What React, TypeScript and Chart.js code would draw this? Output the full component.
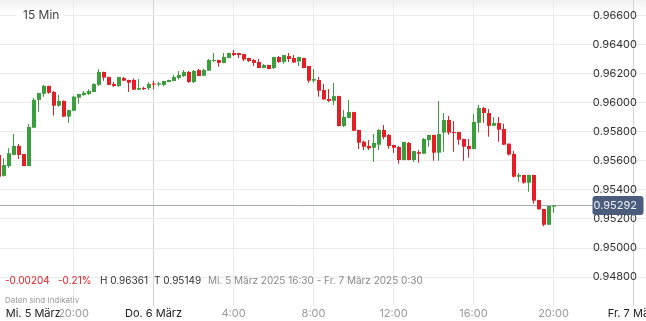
import React, { useEffect, useRef } from 'react';
import { Chart, registerables } from 'chart.js';

Chart.register(...registerables);

// 15-minute candles, slot -1 = 16:15 (5 March), slot 0 = 16:30 ... slot 110 = 20:00 (6 March)
const opens = [
  0.95640, 0.95496, 0.95563, 0.95640, 0.95701, 0.95646, 0.95563, 0.95827, 0.96018, 0.96060,
  0.96114, 0.96072, 0.95978, 0.96011, 0.95903, 0.95943, 0.96033, 0.96051, 0.96058, 0.96072,
  0.96121, 0.96210, 0.96175, 0.96127, 0.96114, 0.96168, 0.96155, 0.96155, 0.96088, 0.96100,
  0.96098, 0.96129, 0.96123, 0.96121, 0.96141, 0.96148, 0.96168, 0.96182, 0.96210, 0.96141,
  0.96223, 0.96184, 0.96219, 0.96285, 0.96292, 0.96272, 0.96306, 0.96340, 0.96340, 0.96333,
  0.96306, 0.96292, 0.96279, 0.96237, 0.96258, 0.96237, 0.96313, 0.96279, 0.96319, 0.96306,
  0.96282, 0.96306, 0.96251, 0.96150, 0.96155, 0.96086, 0.96024, 0.96011, 0.96044, 0.95838,
  0.95894, 0.95934, 0.95811, 0.95731, 0.95701, 0.95689, 0.95710, 0.95811, 0.95777, 0.95708,
  0.95694, 0.95605, 0.95722, 0.95605, 0.95659, 0.95648, 0.95742, 0.95777, 0.95655, 0.95793,
  0.95880, 0.95797, 0.95797, 0.95749, 0.95701, 0.95680, 0.95861, 0.95962, 0.95928, 0.95840,
  0.95859, 0.95818, 0.95717, 0.95646, 0.95490, 0.95502, 0.95449, 0.95502, 0.95330, 0.95268,
  0.95160, 0.95284,
];
const highs = [
  0.95640, 0.95617, 0.95685, 0.95784, 0.95715, 0.95646, 0.95852, 0.96033, 0.96067, 0.96121,
  0.96116, 0.96079, 0.96051, 0.96013, 0.95950, 0.96047, 0.96060, 0.96079, 0.96091, 0.96132,
  0.96230, 0.96212, 0.96177, 0.96141, 0.96177, 0.96175, 0.96157, 0.96166, 0.96161, 0.96109,
  0.96139, 0.96150, 0.96141, 0.96150, 0.96157, 0.96191, 0.96217, 0.96223, 0.96217, 0.96223,
  0.96232, 0.96232, 0.96299, 0.96340, 0.96294, 0.96340, 0.96342, 0.96361, 0.96342, 0.96335,
  0.96308, 0.96299, 0.96299, 0.96265, 0.96260, 0.96314, 0.96319, 0.96328, 0.96340, 0.96326,
  0.96314, 0.96308, 0.96253, 0.96230, 0.96175, 0.96127, 0.96093, 0.96134, 0.96046, 0.95948,
  0.96018, 0.95936, 0.95813, 0.95738, 0.95742, 0.95784, 0.95818, 0.95845, 0.95784, 0.95710,
  0.95701, 0.95731, 0.95729, 0.95668, 0.95673, 0.95756, 0.95779, 0.95779, 0.96011, 0.95928,
  0.95908, 0.95873, 0.95799, 0.95751, 0.95749, 0.95921, 0.95983, 0.95969, 0.95955, 0.95901,
  0.95901, 0.95854, 0.95719, 0.95666, 0.95516, 0.95504, 0.95504, 0.95504, 0.95332, 0.95270,
  0.95291, 0.95296,
];
const lows = [
  0.95490, 0.95492, 0.95552, 0.95637, 0.95612, 0.95563, 0.95563, 0.95825, 0.95936, 0.96040,
  0.96060, 0.95910, 0.95971, 0.95901, 0.95861, 0.95941, 0.95992, 0.96047, 0.96051, 0.96070,
  0.96114, 0.96150, 0.96119, 0.96107, 0.96107, 0.96148, 0.96072, 0.96086, 0.96087, 0.96086,
  0.96086, 0.96091, 0.96112, 0.96112, 0.96139, 0.96146, 0.96157, 0.96175, 0.96134, 0.96134,
  0.96180, 0.96182, 0.96217, 0.96279, 0.96246, 0.96270, 0.96304, 0.96319, 0.96306, 0.96285,
  0.96279, 0.96251, 0.96235, 0.96235, 0.96228, 0.96230, 0.96272, 0.96267, 0.96279, 0.96273,
  0.96251, 0.96235, 0.96136, 0.96136, 0.96040, 0.96019, 0.96004, 0.95983, 0.95836, 0.95832,
  0.95892, 0.95804, 0.95680, 0.95673, 0.95673, 0.95591, 0.95673, 0.95747, 0.95682, 0.95653,
  0.95579, 0.95603, 0.95603, 0.95591, 0.95586, 0.95646, 0.95696, 0.95600, 0.95600, 0.95662,
  0.95779, 0.95662, 0.95710, 0.95600, 0.95621, 0.95678, 0.95793, 0.95861, 0.95765, 0.95838,
  0.95731, 0.95708, 0.95635, 0.95486, 0.95455, 0.95442, 0.95387, 0.95304, 0.95264, 0.95149,
  0.95158, 0.95243,
];
const closes = [
  0.95490, 0.95570, 0.95651, 0.95701, 0.95640, 0.95563, 0.95832, 0.96018, 0.96065, 0.96114,
  0.96067, 0.95978, 0.96011, 0.95903, 0.95948, 0.96040, 0.96058, 0.96067, 0.96079, 0.96127,
  0.96210, 0.96171, 0.96121, 0.96114, 0.96175, 0.96150, 0.96136, 0.96088, 0.96100, 0.96093,
  0.96127, 0.96123, 0.96132, 0.96148, 0.96155, 0.96175, 0.96189, 0.96210, 0.96141, 0.96217,
  0.96182, 0.96223, 0.96292, 0.96292, 0.96272, 0.96313, 0.96340, 0.96326, 0.96326, 0.96296,
  0.96285, 0.96272, 0.96237, 0.96258, 0.96230, 0.96313, 0.96279, 0.96326, 0.96299, 0.96275,
  0.96313, 0.96237, 0.96150, 0.96161, 0.96081, 0.96021, 0.96011, 0.96044, 0.95838, 0.95901,
  0.95934, 0.95806, 0.95724, 0.95696, 0.95685, 0.95722, 0.95811, 0.95763, 0.95701, 0.95689,
  0.95605, 0.95729, 0.95605, 0.95666, 0.95648, 0.95749, 0.95777, 0.95655, 0.95784, 0.95880,
  0.95793, 0.95790, 0.95744, 0.95696, 0.95680, 0.95866, 0.95962, 0.95928, 0.95840, 0.95859,
  0.95813, 0.95710, 0.95642, 0.95490, 0.95502, 0.95449, 0.95502, 0.95325, 0.95266, 0.95160,
  0.95289, 0.95292,
];
const FIRST_SLOT = -1;
const slots = opens.map((_, i) => FIRST_SLOT + i);

const xTickSlots = [5.95, 14, 30, 46, 62, 78, 94, 110, 126];
const xTickLabels = ['Mi. 5 März', '20:00', 'Do. 6 März', '4:00', '8:00', '12:00', '16:00', '20:00', 'Fr. 7 März'];
const xTickIsDate = [true, false, true, false, false, false, false, false, true];
const xTickHasGrid = [false, true, true, true, true, true, true, true, true];
const yTickValues = [0.948, 0.95, 0.952, 0.954, 0.956, 0.958, 0.96, 0.962, 0.964, 0.966];

const X_MIN = -0.7;
const X_MAX = 128.5;
const Y_MIN = 0.946014;
const Y_MAX = 0.967045;

const lastPrice = 0.95292;
const periodLabel = '15 Min';
const changeAbs = '-0.00204';
const changePct = '-0.21%';
const highLabel = 'H 0.96361';
const lowLabel = 'T 0.95149';
const rangeLabel = 'Mi. 5 März 2025 16:30 - Fr. 7 März 2025 0:30';
const disclaimer = 'Daten sind Indikativ';

const GREEN = '#3a9e3c';
const RED = '#e21f26';
const FONT = 'Inter, "Noto Sans", sans-serif';

const candleColors = opens.map((o, i) => (closes[i] >= o ? GREEN : RED));

const decor = {
  id: 'decor',
  beforeDraw(chart: any) {
    const { ctx, width, height } = chart;
    ctx.save();
    ctx.fillStyle = '#ffffff';
    ctx.fillRect(0, 0, width, height);
    const g = ctx.createLinearGradient(0, 0, 0, 14);
    g.addColorStop(0, 'rgba(0,0,0,0.05)');
    g.addColorStop(1, 'rgba(0,0,0,0)');
    ctx.fillStyle = g;
    ctx.fillRect(0, 0, width, 14);
    ctx.restore();
  },
  beforeDatasetsDraw(chart: any) {
    const { ctx } = chart;
    const y = Math.round(chart.scales.y.getPixelForValue(lastPrice)) - 0.5;
    ctx.save();
    ctx.strokeStyle = '#a5aab5';
    ctx.lineWidth = 1;
    ctx.beginPath();
    ctx.moveTo(0, y);
    ctx.lineTo(593, y);
    ctx.stroke();
    ctx.restore();
  },
  afterDraw(chart: any) {
    const { ctx } = chart;
    ctx.save();
    // period label box
    ctx.fillStyle = '#ffffff';
    ctx.fillRect(16, 9, 47, 14);
    ctx.font = `12px ${FONT}`;
    ctx.fillStyle = '#444444';
    ctx.textBaseline = 'middle';
    ctx.textAlign = 'left';
    ctx.fillText(periodLabel, 23, 15.5);

    // price tag
    const py = chart.scales.y.getPixelForValue(lastPrice);
    ctx.fillStyle = '#4b5c7d';
    ctx.beginPath();
    (ctx as any).roundRect(592.5, py - 9.5, 51, 19, 3);
    ctx.fill();
    ctx.fillStyle = '#eef1f6';
    ctx.font = `11px ${FONT}`;
    ctx.textAlign = 'right';
    ctx.fillText(lastPrice.toFixed(5), 637, py + 0.5);

    // info row
    ctx.textAlign = 'left';
    ctx.font = `10px ${FONT}`;
    ctx.fillStyle = '#e21f26';
    ctx.fillText(changeAbs, 5, 281);
    ctx.fillText(changePct, 58, 281);
    ctx.fillStyle = '#333333';
    ctx.fillText(highLabel, 100, 281);
    ctx.fillText(lowLabel, 154, 281);
    ctx.fillStyle = '#8a8a8a';
    ctx.fillText(rangeLabel, 208, 281);
    ctx.font = `8px ${FONT}`;
    ctx.fillStyle = '#9a9a9a';
    ctx.fillText(disclaimer, 5, 301);
    ctx.restore();
  },
};

export default function App() {
  const ref = useRef<HTMLCanvasElement | null>(null);

  useEffect(() => {
    document.body.style.margin = '0';
    const canvas = ref.current;
    if (!canvas) return;
    const chart = new Chart(canvas, {
      type: 'bar',
      data: {
        datasets: [
          {
            label: 'body',
            data: slots.map((s, i) => ({ x: s, y: [opens[i], closes[i]] })) as any,
            backgroundColor: candleColors,
            barThickness: 4,
            minBarLength: 1,
            grouped: false,
            inflateAmount: 0,
            borderWidth: 0,
            xAxisID: 'xb',
            yAxisID: 'y',
          } as any,
          {
            label: 'wick',
            data: slots.map((s, i) => ({ x: s, y: [lows[i], highs[i]] })) as any,
            backgroundColor: candleColors,
            barThickness: 1,
            minBarLength: 1,
            grouped: false,
            inflateAmount: 0,
            borderWidth: 0,
            xAxisID: 'x',
            yAxisID: 'y',
          } as any,
        ],
      },
      options: {
        responsive: false,
        animation: false,
        devicePixelRatio: 1,
        events: [],
        layout: { padding: 0 },
        plugins: {
          legend: { display: false },
          tooltip: { enabled: false },
          title: { display: false },
        },
        scales: {
          x: {
            type: 'linear',
            position: 'bottom',
            min: X_MIN,
            max: X_MAX,
            offset: false,
            afterBuildTicks: (s: any) => {
              s.ticks = xTickSlots.map((v) => ({ value: v }));
            },
            afterFit: (s: any) => {
              s.height = 15;
              s.paddingLeft = 0;
              s.paddingRight = 0;
            },
            grid: {
              offset: false,
              drawTicks: false,
              lineWidth: 1,
              color: (c: any) =>
                !xTickHasGrid[c.index] ? 'rgba(0,0,0,0)' : xTickIsDate[c.index] ? '#d4d4d4' : '#ececec',
            },
            border: { display: false },
            ticks: {
              autoSkip: false,
              maxRotation: 0,
              minRotation: 0,
              padding: 1,
              font: { family: FONT, size: 11 },
              color: (c: any) => (xTickIsDate[c.index] ? '#222222' : '#9a9a9a'),
              callback: (_v: any, i: number) => xTickLabels[i],
            },
          } as any,
          xb: {
            type: 'linear',
            display: false,
            min: X_MIN - 0.1,
            max: X_MAX - 0.1,
            offset: false,
          } as any,
          y: {
            type: 'linear',
            position: 'right',
            min: Y_MIN,
            max: Y_MAX,
            afterBuildTicks: (s: any) => {
              s.ticks = yTickValues.map((v) => ({ value: v }));
            },
            afterFit: (s: any) => {
              s.width = 0;
              s.paddingTop = 0;
              s.paddingBottom = 0;
            },
            grid: { drawTicks: false, color: '#ebebeb', lineWidth: 1 },
            border: { display: false },
            ticks: {
              mirror: true,
              padding: -9,
              font: { family: FONT, size: 11 },
              color: '#333333',
              callback: (v: any) => Number(v).toFixed(5),
            },
          } as any,
        },
      },
      plugins: [decor],
    });
    return () => chart.destroy();
  }, []);

  return (
    <div style={{ width: 646, height: 321 }}>
      <canvas ref={ref} width={646} height={321} style={{ display: 'block' }} />
    </div>
  );
}
